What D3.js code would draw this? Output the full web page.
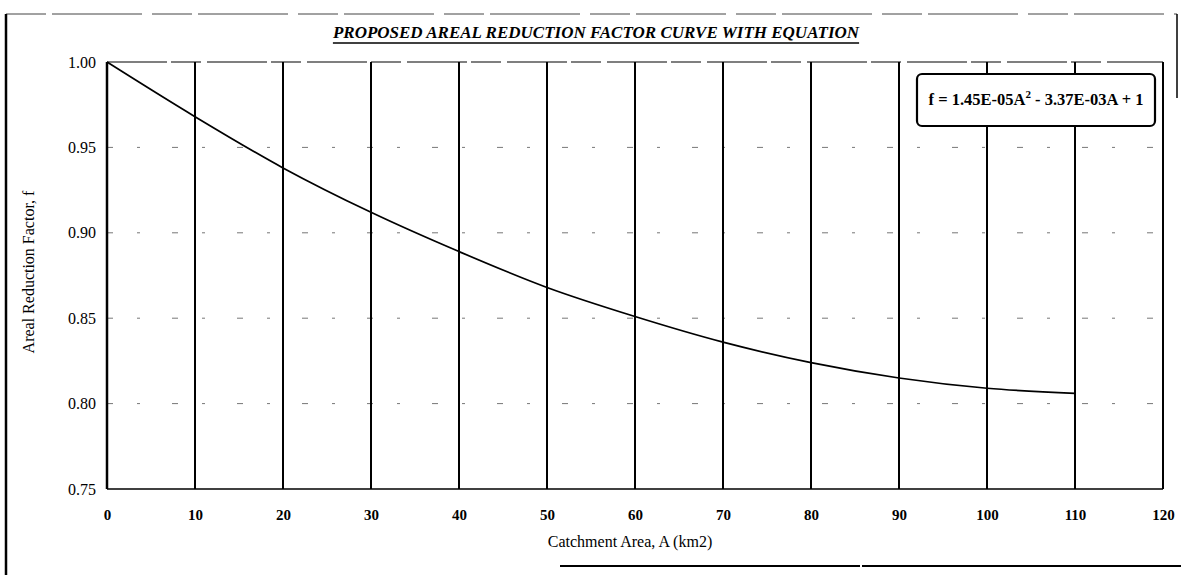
<!DOCTYPE html>
<html>
<head>
<meta charset="utf-8">
<script src="https://cdn.jsdelivr.net/npm/d3@7"></script>
<style>
  body { margin: 0; background: #fff; }
  svg { display: block; }
  text { font-family: "Liberation Serif", "Times New Roman", serif; fill: #000; }
</style>
</head>
<body>
<svg id="chart" width="1181" height="575"></svg>
<script>
// Catchment area (km2) and areal reduction factor f
const areaKm2 = [0, 10, 20, 30, 40, 50, 60, 70, 80, 90, 100, 110];
const reductionFactor = [1.000, 0.968, 0.938, 0.912, 0.889, 0.868, 0.851, 0.836, 0.824, 0.815, 0.809, 0.806];

// Axis ticks
const xTickValues = [0, 10, 20, 30, 40, 50, 60, 70, 80, 90, 100, 110, 120];
const yTickValues = [0.75, 0.80, 0.85, 0.90, 0.95, 1.00];
const yTickLabels = ["0.75", "0.80", "0.85", "0.90", "0.95", "1.00"];

const chartTitle = "PROPOSED AREAL REDUCTION FACTOR CURVE WITH EQUATION";
const xAxisTitle = "Catchment Area, A (km2)";
const yAxisTitle = "Areal Reduction Factor, f";
const equationParts = ["f = 1.45E-05A", "2", " - 3.37E-03A + 1"];

const svg = d3.select("#chart");
const plot = { left: 107, right: 1163, top: 62, bottom: 489 };

const x = d3.scaleLinear().domain([0, 120]).range([plot.left, plot.right]);
const y = d3.scaleLinear().domain([0.75, 1.00]).range([plot.bottom, plot.top]);

// Outer chart frame (partial border lines)
const frame = svg.append("g").attr("stroke", "#000").attr("fill", "none");
frame.append("line").attr("x1", 6).attr("x2", 1177).attr("y1", 14).attr("y2", 14)
  .attr("stroke-width", 1).attr("stroke-dasharray", "40,6,90,10").attr("stroke", "#444");
frame.append("line").attr("x1", 6).attr("x2", 6).attr("y1", 14).attr("y2", 575).attr("stroke-width", 2.5);
frame.append("line").attr("x1", 1177).attr("x2", 1177).attr("y1", 14).attr("y2", 98).attr("stroke-width", 1.5);
frame.append("line").attr("x1", 560).attr("x2", 1181).attr("y1", 566).attr("y2", 566).attr("stroke-width", 2)
  .attr("stroke-dasharray", "300,2,400");

// Horizontal gridlines (sparse dashes)
svg.append("g")
  .selectAll("line")
  .data(yTickValues.filter(v => v > 0.75 && v < 1.0))
  .join("line")
  .attr("x1", plot.left).attr("x2", plot.right)
  .attr("y1", d => y(d)).attr("y2", d => y(d))
  .attr("stroke", "#777").attr("stroke-width", 1)
  .attr("stroke-dasharray", "6,24,3,32");

// Vertical gridlines (solid, heavy)
svg.append("g")
  .selectAll("line")
  .data(xTickValues.filter(v => v > 0))
  .join("line")
  .attr("x1", d => x(d)).attr("x2", d => x(d))
  .attr("y1", plot.top).attr("y2", plot.bottom)
  .attr("stroke", "#000").attr("stroke-width", 2);

// Plot area border
svg.append("line").attr("x1", plot.left).attr("x2", plot.right).attr("y1", plot.top).attr("y2", plot.top)
  .attr("stroke", "#000").attr("stroke-width", 1.2).attr("stroke-dasharray", "60,4,30,6");
svg.append("line").attr("x1", plot.left).attr("x2", plot.right).attr("y1", plot.bottom).attr("y2", plot.bottom)
  .attr("stroke", "#000").attr("stroke-width", 1.3);
svg.append("line").attr("x1", plot.left).attr("x2", plot.left).attr("y1", plot.top).attr("y2", plot.bottom)
  .attr("stroke", "#000").attr("stroke-width", 2.5);

// X axis labels
const xAxis = svg.append("g")
  .attr("transform", `translate(0,${plot.bottom})`)
  .call(d3.axisBottom(x).tickValues(xTickValues).tickSize(0).tickPadding(20).tickFormat(d3.format("d")));
xAxis.select(".domain").remove();
xAxis.selectAll("text")
  .style("font-family", "'Liberation Serif', serif")
  .style("font-size", "15px").style("font-weight", "bold").attr("fill", "#000");

// Y axis labels
const yAxis = svg.append("g")
  .attr("transform", `translate(${plot.left},0)`)
  .call(d3.axisLeft(y).tickValues(yTickValues).tickSize(0).tickPadding(11)
    .tickFormat((d, i) => yTickLabels[i]));
yAxis.select(".domain").remove();
yAxis.selectAll("text")
  .style("font-family", "'Liberation Serif', serif")
  .style("font-size", "16px").attr("fill", "#000");

// Curve
const line = d3.line()
  .x((d, i) => x(areaKm2[i]))
  .y(d => y(d))
  .curve(d3.curveMonotoneX);
svg.append("path")
  .datum(reductionFactor)
  .attr("d", line)
  .attr("fill", "none")
  .attr("stroke", "#000")
  .attr("stroke-width", 1.7);

// Title (bold italic, underlined)
const titleX = 596;
const title = svg.append("text")
  .attr("x", titleX).attr("y", 38)
  .attr("text-anchor", "middle")
  .style("font-size", "17px").style("font-weight", "bold").style("font-style", "italic")
  .text(chartTitle);
const tLen = title.node().getComputedTextLength();
svg.append("line")
  .attr("x1", titleX - tLen / 2).attr("x2", titleX + tLen / 2)
  .attr("y1", 43).attr("y2", 43)
  .attr("stroke", "#000").attr("stroke-width", 1.4);

// Axis titles
svg.append("text")
  .attr("x", 630).attr("y", 547)
  .attr("text-anchor", "middle")
  .style("font-size", "16px")
  .text(xAxisTitle);
svg.append("text")
  .attr("transform", `translate(34,272) rotate(-90)`)
  .attr("text-anchor", "middle")
  .style("font-size", "16px")
  .text(yAxisTitle);

// Equation box
const box = { x: 917, y: 74, w: 238, h: 52 };
svg.append("rect")
  .attr("x", box.x).attr("y", box.y).attr("width", box.w).attr("height", box.h)
  .attr("rx", 5)
  .attr("fill", "#fff").attr("stroke", "#000").attr("stroke-width", 2.2);
const eq = svg.append("text")
  .attr("x", box.x + box.w / 2).attr("y", box.y + box.h / 2 + 5)
  .attr("text-anchor", "middle")
  .style("font-size", "16.5px").style("font-weight", "bold");
eq.append("tspan").text(equationParts[0]);
eq.append("tspan").attr("dy", -7).style("font-size", "11px").text(equationParts[1]);
eq.append("tspan").attr("dy", 7).text(equationParts[2]);
</script>
</body>
</html>
